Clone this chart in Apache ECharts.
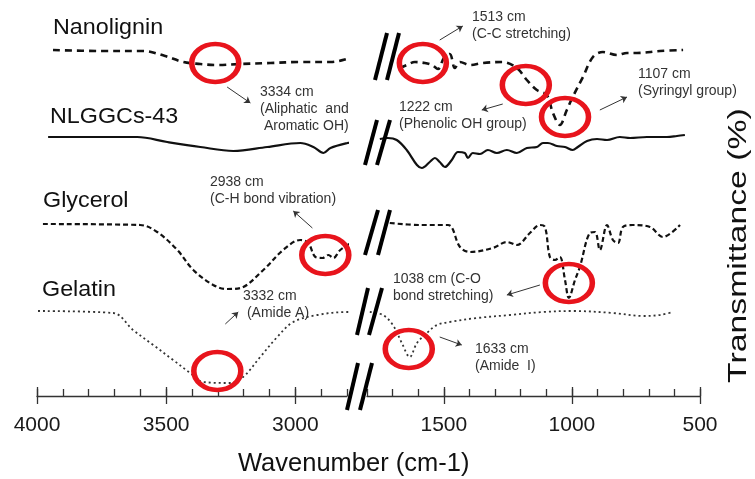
<!DOCTYPE html>
<html>
<head>
<meta charset="utf-8">
<script src="https://cdn.jsdelivr.net/npm/echarts@6/dist/echarts.min.js"></script>
<style>
  html, body { margin: 0; background: #fff; }
  #chart { width: 755px; height: 479px; }
</style>
</head>
<body>
<div id="chart"></div>
<script>
// FTIR spectra, [wavenumber (cm-1), transmittance offset (a.u.)]
// "high" = 4000-2800 segment, "low" = 1800-500 segment (axis is broken between)
const nanoligninHigh = [[3938,346],[3756,345],[3589,345],[3504,340],[3434,334],[3368,332],[3310,331],[3213,332],[3097,333],[2981,334],[2864,334],[2787,338],[2748,341]];
const nanoligninLow = [[1672,328],[1645,331],[1613,334],[1574,333],[1547,331],[1523,327],[1500,338],[1477,342],[1457,328],[1437,334],[1398,331],[1348,333],[1270,334],[1215,328],[1176,316],[1137,306],[1098,301],[1074,283],[1047,271],[1020,286],[997,299],[957,319],[918,339],[879,344],[824,341],[785,343],[746,343],[656,345],[566,346]];

const nlggcsHigh = [[3957,259],[3612,259],[3496,254],[3368,249],[3240,245],[3109,249],[2981,253],[2930,249],[2891,243],[2864,248],[2798,253],[2736,256]];
const nlggcsLow = [[1750,257],[1719,258],[1684,256],[1645,246],[1605,231],[1586,228],[1555,234],[1535,238],[1516,234],[1496,229],[1469,236],[1445,244],[1418,243],[1406,238],[1387,243],[1359,242],[1328,246],[1293,243],[1254,246],[1215,243],[1176,248],[1137,249],[1113,253],[1094,253],[1059,250],[1027,249],[997,246],[977,249],[941,255],[902,257],[863,256],[813,259],[773,258],[707,259],[629,259],[590,260],[559,261]];

const glycerolHigh = [[3977,172],[3601,171],[3535,164],[3457,146],[3395,126],[3318,111],[3264,107],[3213,108],[3124,126],[3047,146],[2981,156],[2950,153],[2922,139],[2895,138],[2872,141],[2853,138],[2826,146],[2775,154],[2729,158]];
const glycerolLow = [[1711,173],[1594,171],[1484,171],[1437,149],[1398,144],[1309,148],[1254,154],[1215,151],[1164,163],[1125,171],[1105,169],[1086,139],[1066,136],[1047,139],[1027,116],[1012,98],[988,116],[969,129],[930,163],[910,164],[891,146],[863,171],[840,156],[820,153],[801,169],[762,171],[695,169],[645,159],[578,171]];

const gelatinHigh = [[3996,85],[3705,83],[3628,66],[3550,51],[3473,36],[3407,23],[3357,14],[3252,13],[3202,19],[3136,39],[3070,59],[3008,74],[2915,81],[2798,84],[2729,84]];
const gelatinLow = [[1789,84],[1738,81],[1699,71],[1664,53],[1633,39],[1605,53],[1566,63],[1527,71],[1477,74],[1371,78],[1242,81],[1113,84],[996,85],[840,83],[723,80],[656,81],[605,84]];

// highlighted bands (red rings) and arrows pointing to their notes
const circlesHigh = [[3310,333],[2884,141],[3302,25]];
const circlesLow = [[1582,333],[1180,311],[1027,279],[1012,113],[1637,47]];
const arrowsHigh = [[[3264,309],[3174,293]], [[2934,168],[3008,185]], [[3271,72],[3221,84]]];
const arrowsLow = [[[1516,356],[1426,370]], [[1270,292],[1352,286]], [[891,286],[785,299]], [[1125,111],[1254,101]], [[1516,59],[1430,51]]];

const highTicks = [3000, 3500, 4000];
const lowTicks = [500, 1000, 1500];

const FONT = 'Liberation Sans, Arial, sans-serif';

const chart = echarts.init(document.getElementById('chart'));

function minorAxis(grid, min, max) {
  return {
    type: 'value', gridIndex: grid, position: 'bottom', min: min, max: max, inverse: true, interval: 100,
    axisLine: { show: true, lineStyle: { color: '#333', width: 1.3 } },
    axisTick: { show: true, inside: true, length: 7, lineStyle: { color: '#333', width: 1.3 } },
    axisLabel: { show: false },
    splitLine: { show: false }
  };
}
function majorAxis(grid, min, max, ticks) {
  return {
    type: 'value', gridIndex: grid, position: 'bottom', min: min, max: max, inverse: true, interval: 100,
    offset: -9,
    axisLine: { show: false },
    axisTick: { show: true, customValues: ticks, length: 17, lineStyle: { color: '#333', width: 1.3 } },
    axisLabel: { customValues: ticks, margin: 28, fontSize: 21, color: '#1a1a1a', fontFamily: FONT,
      formatter: v => String(v) },
    splitLine: { show: false }
  };
}

function spectrum(name, data, side, style) {
  return {
    name: name, type: 'line', xAxisIndex: side * 2, yAxisIndex: side, data: data,
    showSymbol: false, smooth: 0.35, clip: false, silent: true,
    lineStyle: style
  };
}
function rings(data, side) {
  return {
    type: 'scatter', xAxisIndex: side * 2, yAxisIndex: side, data: data, z: 5,
    symbol: 'circle', symbolSize: [47, 38], silent: true,
    itemStyle: { color: 'rgba(0,0,0,0)', borderColor: '#e8141c', borderWidth: 5, opacity: 1 }
  };
}
function arrows(data, side) {
  return {
    type: 'lines', coordinateSystem: 'cartesian2d', xAxisIndex: side * 2, yAxisIndex: side,
    data: data.map(c => ({ coords: c })), silent: true,
    symbol: ['none', 'arrow'], symbolSize: 6,
    lineStyle: { color: '#333', width: 1, opacity: 1 }
  };
}

const dashStyle = { color: '#111', width: 2.6, type: [7, 5] };
const solidStyle = { color: '#111', width: 2.2, type: 'solid' };
const shortDash = { color: '#111', width: 2.2, type: [5, 3] };
const dotStyle = { color: '#333', width: 1.8, type: [2, 3] };

function note(x, y, text) {
  return { type: 'text', left: x, top: y, silent: true,
    style: { text: text, font: '14px ' + FONT, fill: '#333', lineHeight: 17 } };
}
function breakMark(x1, y1, x2, y2) {
  return { type: 'line', silent: true, z: 10,
    shape: { x1: x1, y1: y1, x2: x2, y2: y2 },
    style: { stroke: '#000', lineWidth: 4 } };
}
function label(x, y, text) {
  return { type: 'text', x: x, y: y, scaleX: 1.06, silent: true,
    style: { text: text, font: '22px ' + FONT, fill: '#111' } };
}

chart.setOption({
  animation: false,
  backgroundColor: '#fff',
  grid: [
    { left: 37, width: 310, top: 0, height: 396 },
    { left: 367, width: 333, top: 0, height: 396 }
  ],
  xAxis: [
    minorAxis(0, 2800, 4000), majorAxis(0, 2800, 4000, highTicks),
    minorAxis(1, 500, 1800), majorAxis(1, 500, 1800, lowTicks)
  ],
  yAxis: [
    { gridIndex: 0, type: 'value', min: 0, max: 396, show: false },
    { gridIndex: 1, type: 'value', min: 0, max: 396, show: false }
  ],
  series: [
    spectrum('Nanolignin', nanoligninHigh, 0, dashStyle),
    spectrum('Nanolignin', nanoligninLow, 1, dashStyle),
    spectrum('NLGGCs-43', nlggcsHigh, 0, solidStyle),
    spectrum('NLGGCs-43', nlggcsLow, 1, solidStyle),
    spectrum('Glycerol', glycerolHigh, 0, shortDash),
    spectrum('Glycerol', glycerolLow, 1, shortDash),
    spectrum('Gelatin', gelatinHigh, 0, dotStyle),
    spectrum('Gelatin', gelatinLow, 1, dotStyle),
    rings(circlesHigh, 0), rings(circlesLow, 1),
    arrows(arrowsHigh, 0), arrows(arrowsLow, 1)
  ],
  graphic: [
    label(53, 17, 'Nanolignin'),
    label(50, 106, 'NLGGCs-43'),
    label(43, 190, 'Glycerol'),
    label(42, 279, 'Gelatin'),
    note(260, 84, '3334 cm\n(Aliphatic  and\n Aromatic OH)'),
    note(472, 9, '1513 cm\n(C-C stretching)'),
    note(399, 99, '1222 cm\n(Phenolic OH group)'),
    note(638, 66, '1107 cm\n(Syringyl group)'),
    note(210, 174, '2938 cm\n(C-H bond vibration)'),
    note(393, 271, '1038 cm (C-O\nbond stretching)'),
    note(243, 288, '3332 cm\n (Amide A)'),
    note(475, 341, '1633 cm\n(Amide  I)'),
    breakMark(375, 80, 387, 33), breakMark(387, 80, 399, 33),
    breakMark(365, 165, 377, 120), breakMark(377, 165, 390, 120),
    breakMark(365, 255, 378, 210), breakMark(378, 255, 390, 210),
    breakMark(357, 335, 368, 288), breakMark(369, 335, 382, 288),
    breakMark(347, 410, 358, 363), breakMark(360, 410, 372, 363),
    { type: 'text', x: 238, y: 452, scaleX: 1.02, silent: true,
      style: { text: 'Wavenumber (cm-1)', font: '25px ' + FONT, fill: '#111' } },
    { type: 'text', x: 726, y: 383, rotation: Math.PI / 2, scaleX: 1.3, silent: true,
      style: { text: 'Transmittance (%)', font: '26px ' + FONT, fill: '#111' } }
  ]
});
</script>
</body>
</html>
